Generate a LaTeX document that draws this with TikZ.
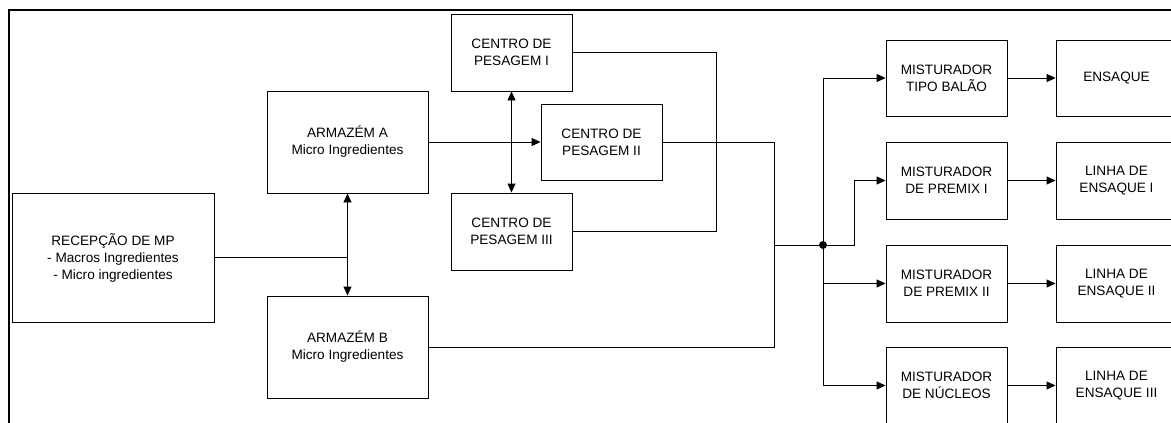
\documentclass[tikz,border=0pt]{standalone}
\usepackage{fontspec}
\setmainfont{Liberation Sans}
\usetikzlibrary{arrows.meta}
\begin{document}
\begin{tikzpicture}[x=1pt,y=-1pt,
  every node/.style={font=\fontsize{13.6}{17}\selectfont, align=center, inner sep=0pt},
  blk/.style={draw, line width=0.9pt, minimum width=#1},
  blk/.default=121pt,
  conn/.style={line width=0.9pt},
  arr/.style={conn, -{Triangle[length=9pt,width=8pt]}},
  darr/.style={conn, {Triangle[length=9pt,width=8pt]}-{Triangle[length=9pt,width=8pt]}},
  frame/.style={line width=2.2pt}]
\useasboundingbox (0,0) rectangle (1171,423);
\clip (0,0) rectangle (1171,423);
\draw[frame] (9,423) -- (9,10) -- (1175,10);

\node[blk=202pt, minimum height=129pt] (rec) at (113,257.5) {RECEPÇÃO DE MP\\- Macros Ingredientes\\- Micro ingredientes};
\node[blk=161pt, minimum height=102pt] (armA) at (347.5,142) {ARMAZÉM A\\Micro Ingredientes};
\node[blk=161pt, minimum height=102pt] (armB) at (347.5,347) {ARMAZÉM B\\Micro Ingredientes};

\node[blk, minimum height=77pt] (c1) at (511.5,52.5) {CENTRO DE\\PESAGEM I};
\node[blk, minimum height=76pt] (c2) at (601.5,142) {CENTRO DE\\PESAGEM II};
\node[blk, minimum height=77pt] (c3) at (511.5,231.5) {CENTRO DE\\PESAGEM III};

\node[blk, minimum height=76pt] (m1) at (946.5,78) {MISTURADOR\\TIPO BALÃO};
\node[blk, minimum height=77pt] (m2) at (946.5,180.5) {MISTURADOR\\DE PREMIX I};
\node[blk, minimum height=77pt] (m3) at (946.5,283.5) {MISTURADOR\\DE PREMIX II};
\node[blk, minimum height=77pt] (m4) at (946.5,385.5) {MISTURADOR\\DE NÚCLEOS};

\node[blk, minimum height=76pt] (e1) at (1116.5,78) {ENSAQUE};
\node[blk, minimum height=77pt] (e2) at (1116.5,180.5) {LINHA DE\\ENSAQUE I};
\node[blk, minimum height=77pt] (e3) at (1116.5,283.5) {LINHA DE\\ENSAQUE II};
\node[blk, minimum height=77pt] (e4) at (1116.5,385.5) {LINHA DE\\ENSAQUE III};

% left part
\draw[darr] (armA.south) -- (armB.north);
\draw[conn] (rec.east) -- (rec.east -| armA.south);
\draw[darr] (c1.south) -- (c3.north);
\draw[arr] (armA.east) -- (c2.west);

% loop between weighing centres I and III
\coordinate (loopx) at (716,52.5);
\draw[conn] (c1.east) -- (loopx) |- (c3.east);

% collector
\coordinate (colx) at (774,142);
\coordinate (colj) at (774,245);
\draw[conn] (c2.east) -- (colx) |- (armB.east);

\node[circle, fill, minimum size=8pt] (dot) at (823,245) {};
\draw[conn] (colj) -- (dot);

% distribution bus
\coordinate (bustop) at (823,78);
\coordinate (busbot) at (823,385.5);
\draw[conn] (bustop) -- (busbot);
\draw[arr] (bustop) -- (m1.west);
\coordinate (bend) at (854,245);
\draw[arr] (dot) -- (bend) |- (m2.west);
\draw[arr] (m3.west -| dot) -- (m3.west);
\draw[arr] (busbot) -- (m4.west);

% mixers to bagging
\draw[arr] (m1.east) -- (e1.west);
\draw[arr] (m2.east) -- (e2.west);
\draw[arr] (m3.east) -- (e3.west);
\draw[arr] (m4.east) -- (e4.west);
\end{tikzpicture}
\end{document}
